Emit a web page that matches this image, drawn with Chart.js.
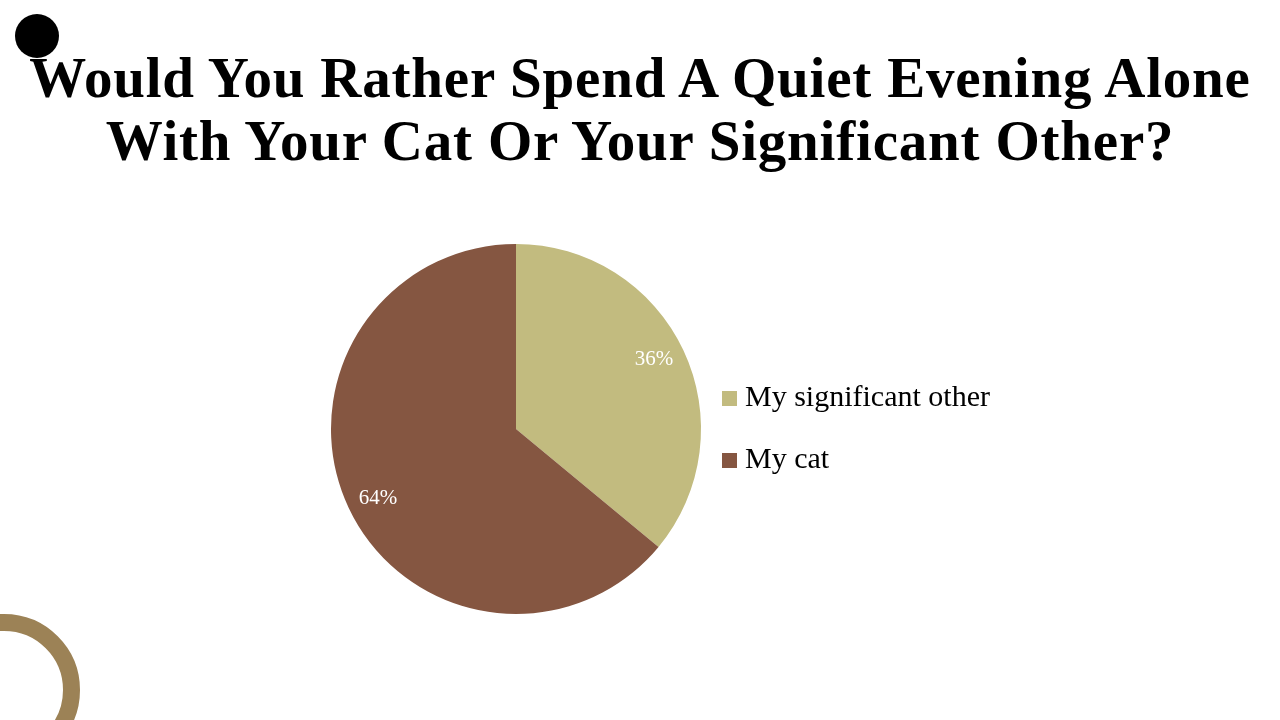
<!DOCTYPE html>
<html>
<head>
<meta charset="utf-8">
<script src="https://cdn.jsdelivr.net/npm/chart.js@4"></script>
<style>
  html,body{margin:0;padding:0;background:#fff;width:1280px;height:720px;overflow:hidden;position:relative;}
  #title{position:absolute;left:0;top:46px;width:1280px;text-align:center;font-family:"Liberation Serif",serif;font-weight:bold;font-size:57px;line-height:63px;letter-spacing:0.8px;color:#000;}
  #dot{position:absolute;left:15px;top:14px;width:44px;height:44px;border-radius:50%;background:#000;}
  #ring{position:absolute;left:-72px;top:614px;width:118px;height:118px;border-radius:50%;border:17px solid #9C8256;}
  #wrap{position:absolute;left:0;top:242px;width:1280px;height:374px;}
</style>
</head>
<body>
<div id="dot"></div>
<div id="ring"></div>
<div id="title">Would You Rather Spend A Quiet Evening Alone<br>With Your Cat Or Your Significant Other?</div>
<div id="wrap"><canvas id="c"></canvas></div>
<script>
const categories = ["My significant other", "My cat"];
const values = [36, 64];
const percentLabels = ["36%", "64%"];
const colors = ["#C2BB7F", "#855641"];

function swatch(color) {
  const c = document.createElement('canvas');
  c.width = 15; c.height = 15;
  const g = c.getContext('2d');
  g.fillStyle = color;
  g.fillRect(0, 0, 15, 15);
  return c;
}

const legendWidthPlugin = {
  id: 'legendWidth',
  afterInit(chart) {
    const lg = chart.legend;
    const f = lg.fit.bind(lg);
    lg.fit = function() { f(); this.width = 584; };
  }
};

const sliceLabels = {
  id: 'sliceLabels',
  afterDatasetsDraw(chart) {
    const ctx = chart.ctx;
    const meta = chart.getDatasetMeta(0);
    ctx.save();
    ctx.fillStyle = '#ffffff';
    ctx.font = '21px "Liberation Serif", serif';
    ctx.textAlign = 'center';
    ctx.textBaseline = 'middle';
    meta.data.forEach((arc, i) => {
      const p = arc.getProps(['x','y','startAngle','endAngle','outerRadius'], true);
      const mid = (p.startAngle + p.endAngle) / 2 - 0.025;
      const r = p.outerRadius * 0.835;
      ctx.fillText(percentLabels[i], p.x + Math.cos(mid) * r, p.y + Math.sin(mid) * r);
    });
    ctx.restore();
  }
};

new Chart(document.getElementById('c'), {
  type: 'pie',
  data: {
    labels: categories,
    datasets: [{
      data: values,
      backgroundColor: colors,
      borderWidth: 0,
      radius: 185
    }]
  },
  options: {
    responsive: true,
    maintainAspectRatio: false,
    animation: false,
    layout: { padding: { left: 336, right: 0, top: 0, bottom: 0 } },
    plugins: {
      tooltip: { enabled: false },
      legend: {
        position: 'right',
        align: 'center',
        labels: {
          usePointStyle: true,
          pointStyleWidth: 2,
          boxHeight: 15,
          padding: 32,
          color: '#000',
          font: { family: '"Liberation Serif", serif', size: 30 },
          generateLabels() {
            return categories.map((t, i) => ({
              text: t,
              fillStyle: colors[i],
              strokeStyle: colors[i],
              lineWidth: 0,
              fontColor: '#000',
              pointStyle: swatch(colors[i]),
              hidden: false,
              index: i
            }));
          }
        }
      }
    }
  },
  plugins: [legendWidthPlugin, sliceLabels]
});
</script>
</body>
</html>
